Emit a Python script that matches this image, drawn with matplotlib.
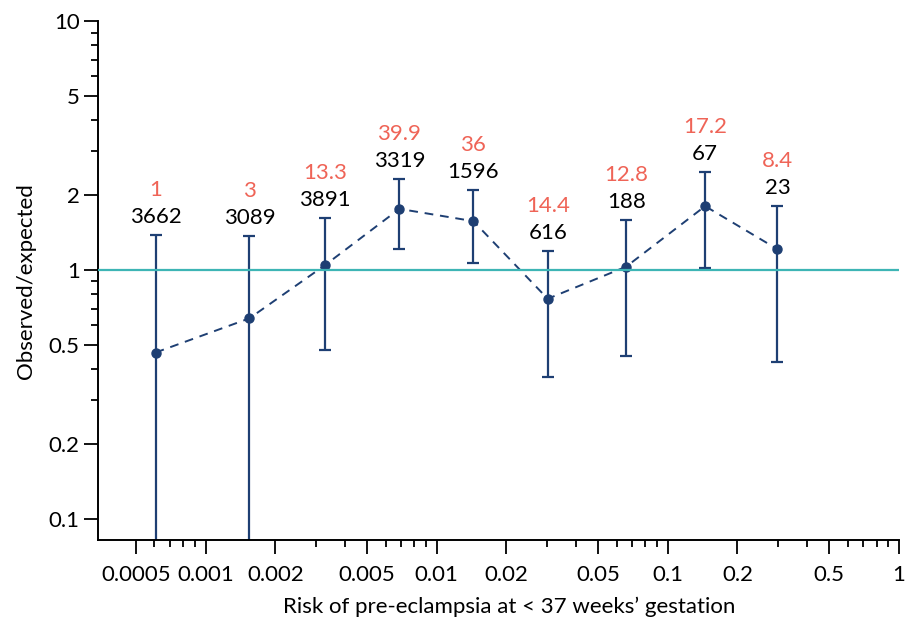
import matplotlib
matplotlib.use("Agg")
import matplotlib.pyplot as plt
from matplotlib.ticker import FixedLocator, NullFormatter

# ---- data ----
risk = [0.000607, 0.001545, 0.00329, 0.00689, 0.0144, 0.0302, 0.0660, 0.1450, 0.298]
obs_exp = [0.466, 0.639, 1.047, 1.760, 1.571, 0.766, 1.031, 1.805, 1.212]
ci_low = [0.03, 0.03, 0.476, 1.215, 1.067, 0.372, 0.450, 1.019, 0.427]
ci_high = [1.388, 1.367, 1.615, 2.326, 2.10, 1.19, 1.595, 2.475, 1.805]
counts = ["3662", "3089", "3891", "3319", "1596", "616", "188", "67", "23"]
events = ["1", "3", "13.3", "39.9", "36", "14.4", "12.8", "17.2", "8.4"]

x_ticks = [0.0005, 0.001, 0.002, 0.005, 0.01, 0.02, 0.05, 0.1, 0.2, 0.5, 1]
x_tick_labels = ["0.0005", "0.001", "0.002", "0.005", "0.01", "0.02", "0.05", "0.1", "0.2", "0.5", "1"]
y_ticks = [0.1, 0.2, 0.5, 1, 2, 5, 10]
y_tick_labels = ["0.1", "0.2", "0.5", "1", "2", "5", "10"]

NAVY = "#1e3f73"
TEAL = "#3db5b5"
RED = "#ef6457"

plt.rcParams["font.family"] = ["Lato", "DejaVu Sans"]

fig = plt.figure(figsize=(9.08, 6.21), dpi=100)
ax = fig.add_axes([0.1083, 0.1304, 0.8817, 0.8356])

ax.set_xscale("log")
ax.set_yscale("log")
ax.set_xlim(0.000343, 1.0)
ax.set_ylim(0.0822, 10)

yerr = [[o - l for o, l in zip(obs_exp, ci_low)], [h - o for o, h in zip(obs_exp, ci_high)]]
ax.errorbar(risk, obs_exp, yerr=yerr, fmt="none", ecolor=NAVY, elinewidth=1.6,
            capsize=4.5, capthick=1.6, zorder=2)
ax.plot(risk, obs_exp, linestyle=(0, (4.5, 3.5)), color=NAVY, linewidth=1.4,
        marker="o", markersize=6.5, markerfacecolor=NAVY, markeredgecolor=NAVY, zorder=3)
ax.axhline(1, color=TEAL, linewidth=1.6, zorder=5)

for xv, h, c, e in zip(risk, ci_high, counts, events):
    ax.annotate(c, (xv, h), xytext=(0, 18), textcoords="offset pixels",
                ha="center", va="center", fontsize=16, color="black")
    ax.annotate(e, (xv, h), xytext=(0, 45), textcoords="offset pixels",
                ha="center", va="center", fontsize=16, color=RED)

# ticks
ax.xaxis.set_major_locator(FixedLocator(x_ticks))
ax.set_xticklabels(x_tick_labels)
x_minor = [m * 10.0 ** e for e in range(-4, 0) for m in (3, 4, 6, 7, 8, 9)
           if 0.0005 < m * 10.0 ** e < 1]
ax.xaxis.set_minor_locator(FixedLocator(x_minor))
ax.xaxis.set_minor_formatter(NullFormatter())

ax.yaxis.set_major_locator(FixedLocator(y_ticks))
ax.set_yticklabels(y_tick_labels)
y_minor = [m * 10.0 ** e for e in range(-1, 1) for m in (3, 4, 6, 7, 8, 9)]
ax.yaxis.set_minor_locator(FixedLocator(y_minor))
ax.yaxis.set_minor_formatter(NullFormatter())

ax.tick_params(which="major", direction="out", length=10, width=1.3, labelsize=16, colors="black")
ax.tick_params(axis="x", which="major", pad=8)
ax.tick_params(which="minor", direction="out", length=5, width=1.3)

for s in ("top", "right"):
    ax.spines[s].set_visible(False)
for s in ("left", "bottom"):
    ax.spines[s].set_linewidth(1.4)

ax.set_xlabel("Risk of pre-eclampsia at < 37 weeks\u2019 gestation", fontsize=16)
ax.xaxis.set_label_coords(0.513, -0.109)
ax.set_ylabel("Observed/expected", fontsize=16, labelpad=9)

fig.savefig("out.png", dpi=100)
